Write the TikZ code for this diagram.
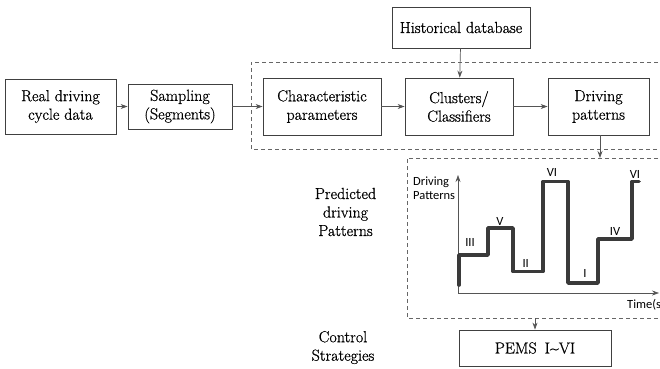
\documentclass[tikz,border=0pt]{standalone}
\usepackage{fontspec}
\newfontfamily\boxfont[FakeBold=0.7]{Latin Modern Roman}
\newfontfamily\chartfont{Carlito}
\usetikzlibrary{arrows.meta,positioning}
\definecolor{boxline}{HTML}{404040}
\definecolor{conn}{HTML}{555555}
\definecolor{dashc}{HTML}{666666}
\definecolor{stepc}{HTML}{3A3A3A}
\tikzset{
  blk/.style={draw=boxline, line width=0.8pt, minimum width=#1, inner sep=0pt, align=center,
              font=\boxfont\fontsize{16}{18.5}\selectfont},
  conn/.style={draw=conn, line width=0.7pt, -{Stealth[length=7pt,width=5pt]}},
  dbox/.style={draw=dashc, line width=0.8pt, dash pattern=on 4pt off 3pt},
  lbl/.style={align=center, font=\boxfont\fontsize{16}{18.5}\selectfont},
  clbl/.style={font=\chartfont\fontsize{12.5}{14}\selectfont, inner sep=0pt},
  axis/.style={draw=conn, line width=0.6pt, -{Stealth[length=7pt,width=5pt]}},
}
\begin{document}
\begin{tikzpicture}[x=1pt,y=-1pt]
\useasboundingbox (0,0) rectangle (660,368);
\clip (0,0) rectangle (660,368);
% dashed groups
\draw[dbox] (700,62) -- (251,62) -- (251,149) -- (700,149);
\draw[dbox] (700,158) -- (407,158) -- (407,318) -- (700,318);
\coordinate (ltop) at (600,158);
\coordinate (lbot) at (535,318);
% boxes
\node[blk=111pt, minimum height=55pt] (real) at (60.5,106.5) {Real driving\\cycle data};
\node[blk=104pt, minimum height=45pt] (samp) at (180,106.5) {Sampling\\(Segments)};
\node[blk=118pt, minimum height=57pt] (char) at (322,106.5) {Characteristic\\parameters};
\node[blk=108pt, minimum height=57pt] (clus) at (459,106.5) {Clusters/\\Classifiers};
\node[blk=101pt, minimum height=57pt] (drive) at (598.5,106.5) {Driving\\patterns};
\node[blk=138pt, minimum height=41pt] (hist) at (461,27.5) {Historical database};
\node[blk=152pt, minimum height=36pt] (pems) at (535,348) {PEMS\enspace I\textasciitilde VI};
% connectors
\draw[conn] (real) -- (samp);
\draw[conn] (samp) -- (char);
\draw[conn] (char) -- (clus);
\draw[conn] (clus) -- (drive);
\draw[conn] (hist) -- (clus);
\draw[conn] (drive.south -| ltop) -- (ltop);
\draw[conn] (lbot) -- (pems.north -| lbot);
% side labels
\node[lbl] (pred) at (345.5,212) {Predicted\\driving\\Patterns};
\node[lbl] (ctrl) at (343,347.5) {Control\\Strategies};
% chart
\coordinate (org) at (458,293);
\coordinate (ytip) at (458,175);
\coordinate (xtip) at (659,293);
\draw[axis] (org) -- (ytip);
\draw[axis] (org) -- (xtip);
\node[clbl, align=left, anchor=west] (ylab) at (413,188) {Driving\\Patterns};
\node[clbl, anchor=west] (xlab) at (627,305) {Time(s)};
\draw[stepc, line width=3.6pt, line cap=round, line join=round]
  (459,285) -- (459,255) -- (488,255) -- (488,228) -- (513,228) -- (513,271.5)
  -- (543,271.5) -- (543,181.5) -- (568,181.5) -- (568,283) -- (598,283)
  -- (598,239) -- (632,239) -- (632,181.5) -- (639,181.5);
\node[clbl] (l3) at (470,242) {III};
\node[clbl] (l5) at (500,221) {V};
\node[clbl] (l2) at (525.7,263) {II};
\node[clbl] (l6a) at (552,172.5) {VI};
\node[clbl] (l1) at (585,273) {I};
\node[clbl] (l4) at (615,231) {IV};
\node[clbl] (l6b) at (635,174) {VI};
\end{tikzpicture}
\end{document}
